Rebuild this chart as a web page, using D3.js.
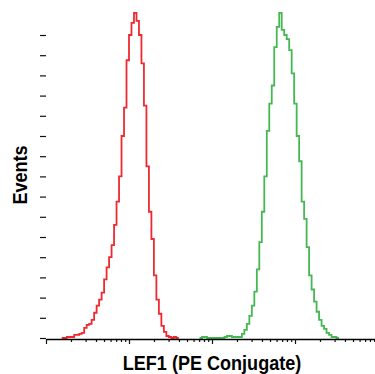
<!DOCTYPE html>
<html>
<head>
<meta charset="utf-8">
<script src="https://cdn.jsdelivr.net/npm/d3@7"></script>
<style>
  html, body { margin: 0; padding: 0; background: #fff; }
  svg { display: block; }
  .title { font-family: 'Liberation Sans', Arial, sans-serif; font-weight: bold; fill: #000; }
</style>
</head>
<body>
<svg id="chart" width="375" height="374"></svg>
<script>
// ---- data ----
const binWidthLog = 0.03;          // bin width in decades
const redStartLog = 1.19;          // log10 of first red bin edge
const redCounts = [0,0,1,1,1,3,3,4,5,10,13,14,18,25,32,38,45,58,70,80,92,112,135,160,200,228,275,300,312,322,314,300,272,230,170,125,98,62,38,24,12,6,2,1,0,1,0];
const greenStartLog = 2.85;        // log10 of first green bin edge
const greenCounts = [0,1,1,0,0,0,0,0,0,0,1,2,2,1,1,1,1,4,8,14,22,32,46,68,95,125,160,205,232,250,288,308,322,305,300,296,285,262,232,200,175,135,118,90,62,48,36,26,18,12,9,5,3,1,1,0];
const yTickValues = d3.range(0, 301, 20);
const xMajorTicks = [10, 100, 1000, 10000, 100000];
const xMinorTicks = [];
for (let d = 10; d < 100000; d *= 10) for (let k = 2; k <= 9; k++) xMinorTicks.push(d * k);
const xTitle = "LEF1 (PE Conjugate)";
const yTitle = "Events";

// ---- scales ----
const svg = d3.select("#chart");
const x = d3.scaleLog().domain([10, 100000]).range([46, 378]);
const y = d3.scaleLinear().domain([0, 320]).range([338, 14.8]);

// ---- histograms ----
function stepPoints(startLog, counts) {
  const pts = counts.map((c, i) => [Math.pow(10, startLog + i * binWidthLog), c]);
  pts.push([Math.pow(10, startLog + counts.length * binWidthLog), 0]);
  return pts;
}
const line = d3.line().x(d => x(d[0])).y(d => y(d[1])).curve(d3.curveStepAfter);

svg.append("path").datum(stepPoints(redStartLog, redCounts))
  .attr("d", line).attr("fill", "none").attr("stroke", "#ee2a30")
  .attr("stroke-width", 1.8).attr("stroke-linejoin", "miter");
svg.append("path").datum(stepPoints(greenStartLog, greenCounts))
  .attr("d", line).attr("fill", "none").attr("stroke", "#45b853")
  .attr("stroke-width", 1.8).attr("stroke-linejoin", "miter");

// ---- y ticks (no axis line, no labels) ----
const gy = svg.append("g").attr("transform", "translate(46,0)")
  .call(d3.axisLeft(y).tickValues(yTickValues).tickSize(6).tickFormat(""));
gy.select(".domain").remove();
gy.selectAll(".tick line").attr("stroke", "#111").attr("stroke-width", 1.2);

// ---- x axis (log ticks, no labels) ----
const gxMinor = svg.append("g").attr("transform", "translate(0,339)")
  .call(d3.axisBottom(x).tickValues(xMinorTicks).tickSize(3).tickFormat(""));
gxMinor.select(".domain").remove();
gxMinor.selectAll(".tick line").attr("stroke", "#111").attr("stroke-width", 1.2);
const gxMajor = svg.append("g").attr("transform", "translate(0,339)")
  .call(d3.axisBottom(x).tickValues(xMajorTicks).tickSize(5).tickSizeOuter(0).tickFormat(""));
gxMajor.select(".domain").attr("stroke", "#000").attr("stroke-width", 1.6);
gxMajor.selectAll(".tick line").attr("stroke", "#111").attr("stroke-width", 1.2);

// ---- titles (condensed bold) ----
svg.append("text").attr("class", "title")
  .attr("transform", "translate(212,370) scale(0.86,1)")
  .attr("text-anchor", "middle").attr("font-size", 21).text(xTitle);
svg.append("text").attr("class", "title")
  .attr("transform", "translate(27,175) rotate(-90) scale(0.86,1)")
  .attr("text-anchor", "middle").attr("font-size", 21).text(yTitle);
</script>
</body>
</html>
